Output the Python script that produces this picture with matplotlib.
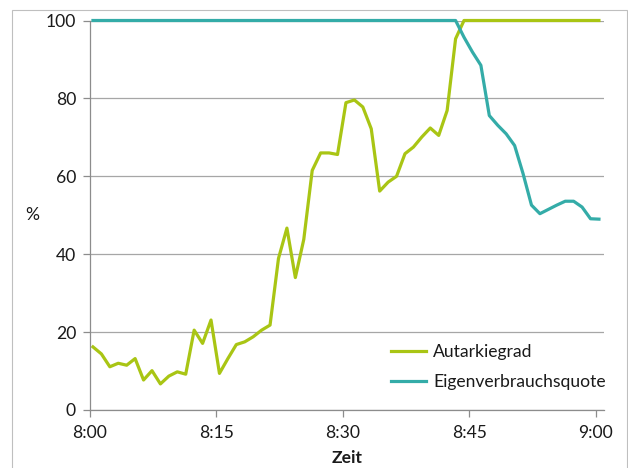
import numpy as np
import matplotlib.pyplot as plt
from matplotlib.patches import Rectangle

# minutes after 8:00 (samples taken ~20 s into each minute)
MINUTES = np.arange(61) + 0.35

AUTARKIEGRAD = [
    16.2, 14.4, 11.1, 12.0, 11.5, 13.2, 7.7, 10.1, 6.7, 8.7,
    9.8, 9.2, 20.5, 17.1, 23.1, 9.4, 13.2, 16.8, 17.5, 18.8,
    20.5, 21.8, 38.9, 46.7, 34.0, 43.8, 61.5, 66.0, 66.0, 65.6,
    78.9, 79.6, 77.8, 72.2, 56.2, 58.5, 60.0, 65.8, 67.5, 70.1,
    72.4, 70.5, 76.9, 95.3, 100, 100, 100, 100, 100, 100,
    100, 100, 100, 100, 100, 100, 100, 100, 100, 100, 100,
]

EIGENVERBRAUCHSQUOTE = [
    100, 100, 100, 100, 100, 100, 100, 100, 100, 100,
    100, 100, 100, 100, 100, 100, 100, 100, 100, 100,
    100, 100, 100, 100, 100, 100, 100, 100, 100, 100,
    100, 100, 100, 100, 100, 100, 100, 100, 100, 100,
    100, 100, 100, 100, 95.7, 91.9, 88.5, 75.6, 73.1, 70.9,
    67.9, 60.7, 52.6, 50.4, 51.5, 52.6, 53.6, 53.6, 52.1, 49.1, 49.0,
]

X_TICKS = [0, 15, 30, 45, 60]
X_TICK_LABELS = ["8:00", "8:15", "8:30", "8:45", "9:00"]
Y_TICKS = [0, 20, 40, 60, 80, 100]

GREEN = "#a9c514"
TEAL = "#34aca8"
TEXT = "#1a1a1a"
GRID = "#a6a6a6"
FS = 12.6

plt.rcParams["font.family"] = ["Lato", "DejaVu Sans"]

fig = plt.figure(figsize=(6.28, 4.68), dpi=100)
fig.patches.append(Rectangle((12 / 628, -0.05), 614.5 / 628, 1 - 10 / 468 + 0.05,
                             transform=fig.transFigure, fill=False,
                             edgecolor="#bfbfbf", linewidth=0.8))

ax = fig.add_axes([90 / 628, 58 / 468, 514 / 628, 389.5 / 468])

ax.plot(MINUTES, AUTARKIEGRAD, color=GREEN, linewidth=2.3,
        label="Autarkiegrad", solid_joinstyle="round", clip_on=False)
ax.plot(MINUTES, EIGENVERBRAUCHSQUOTE, color=TEAL, linewidth=2.3,
        label="Eigenverbrauchsquote", solid_joinstyle="round", clip_on=False)

ax.set_xlim(0, 60.95)
ax.set_ylim(0, 100)
ax.set_xticks(X_TICKS)
ax.set_xticklabels(X_TICK_LABELS)
ax.set_yticks(Y_TICKS)

ax.grid(axis="y", color=GRID, linewidth=0.9)
ax.set_axisbelow(True)
for side in ["top", "right"]:
    ax.spines[side].set_visible(False)
for side in ["left", "bottom"]:
    ax.spines[side].set_color("#8c8c8c")
    ax.spines[side].set_linewidth(0.9)

ax.tick_params(axis="both", colors="#8c8c8c", length=5, width=0.9,
               labelcolor=TEXT, labelsize=FS)
ax.tick_params(axis="x", pad=6)
ax.tick_params(axis="y", pad=5)

ax.set_xlabel("Zeit", fontsize=FS, fontweight="bold", color=TEXT, labelpad=6)
ax.set_ylabel("%", fontsize=FS, color=TEXT, rotation=0, labelpad=10, va="center")

ax.legend(loc="lower left", bbox_to_anchor=(0.555, 0.01), frameon=False,
          fontsize=FS, handlelength=2.0, handletextpad=0.4,
          labelspacing=0.8, labelcolor=TEXT)

fig.savefig("out.png", dpi=100)
